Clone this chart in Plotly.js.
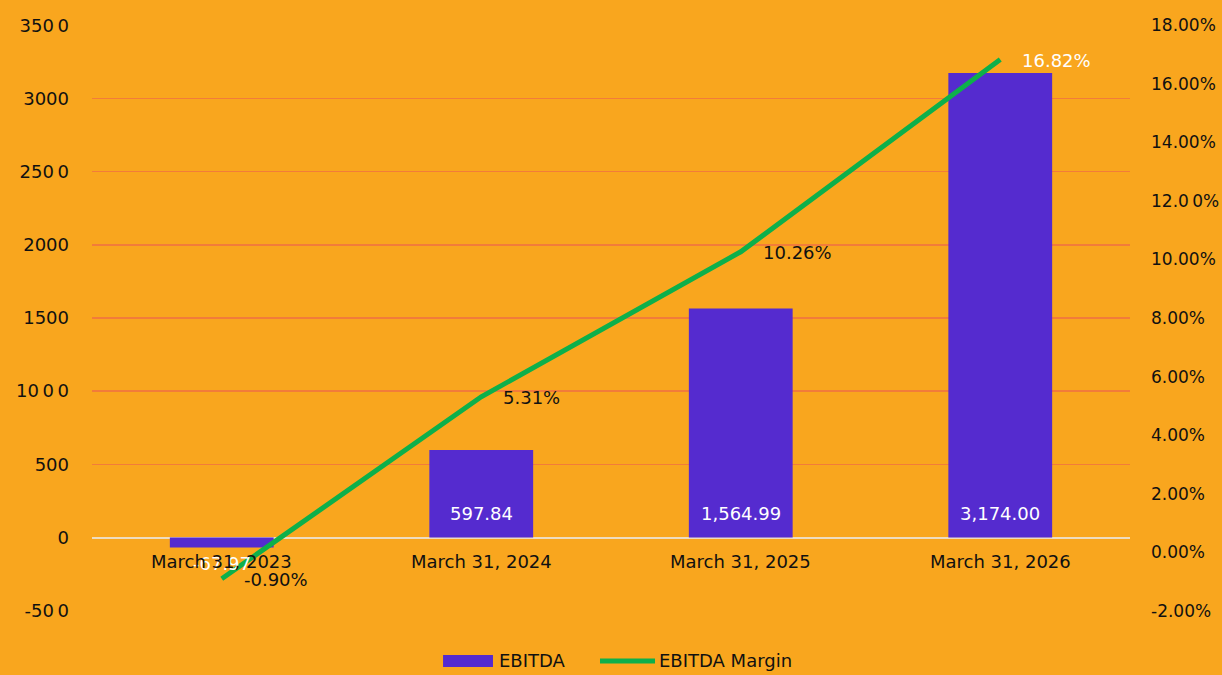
<!DOCTYPE html>
<html>
<head>
<meta charset="utf-8">
<script src="https://cdn.plot.ly/plotly-3.0.1.min.js"></script>
<style>
html,body{margin:0;padding:0;background:#F9A61E;}
#chart{width:1222px;height:675px;}
</style>
</head>
<body>
<div id="chart"></div>
<script>
const categories = ["March 31, 2023", "March 31, 2024", "March 31, 2025", "March 31, 2026"];
const ebitda = [-67.97, 597.84, 1564.99, 3174.00];
const ebitdaLabels = ["-67.97", "597.84", "1,564.99", "3,174.00"];
const margin = [-0.0090, 0.0531, 0.1026, 0.1682];
const marginLabels = ["-0.90%", "5.31%", "10.26%", "16.82%"];
const marginLabelColors = ["#111111", "#111111", "#111111", "#FFFFFF"];
const leftTicks = [-500, 0, 500, 1000, 1500, 2000, 2500, 3000, 3500];
const leftTickText = ["-50\u20090", "0", "500", "10\u20090\u20090", "1500", "2000", "250\u20090", "3000", "350\u20090"];
const rightTicks = [-0.02, 0, 0.02, 0.04, 0.06, 0.08, 0.10, 0.12, 0.14, 0.16, 0.18];
const rightTickText = ["-2.00%", "0.00%", "2.00%", "4.00%", "6.00%", "8.00%", "10.00%", "12.0\u20090%", "14.00%", "16.00%", "18.00%"];
const seriesNames = ["EBITDA", "EBITDA Margin"];

const FONT = "DejaVu Sans, Verdana, sans-serif";
const FS = 18;
const BG = "#F9A61E";
const BAR = "#552BCF";
const GREEN = "#0DB04B";

const traces = [
  {
    type: "bar", name: seriesNames[0], x: categories, y: ebitda,
    marker: {color: BAR}, width: 0.4, yaxis: "y",
    hoverinfo: "skip", showlegend: false
  },
  {
    type: "scatter", mode: "lines", name: seriesNames[1],
    x: categories, y: margin, yaxis: "y2",
    line: {color: GREEN, width: 5},
    cliponaxis: false, hoverinfo: "skip", showlegend: false
  }
];

const annotations = [];
// bar value labels first (drawn beneath category labels)
categories.forEach((c, i) => {
  annotations.push({
    x: c, y: 0, xref: "x", yref: "y", text: ebitdaLabels[i], showarrow: false,
    yanchor: "middle", yshift: ebitda[i] >= 0 ? 24 : -26,
    font: {family: FONT, size: FS, color: "#FFFFFF"}
  });
});
categories.forEach((c, i) => {
  annotations.push({
    x: c, y: 0, xref: "x", yref: "y", text: c, showarrow: false,
    yanchor: "middle", yshift: -24, font: {family: FONT, size: FS, color: "#111"}
  });
  annotations.push({
    x: c, y: margin[i], xref: "x", yref: "y2", text: marginLabels[i], showarrow: false,
    xanchor: "left", yanchor: "middle", xshift: 20, yshift: -1,
    font: {family: FONT, size: FS, color: marginLabelColors[i]}
  });
});

// custom legend (paper coordinates)
annotations.push({x: 0.390, y: -0.0853, xref: "paper", yref: "paper", text: seriesNames[0],
  showarrow: false, xanchor: "left", yanchor: "middle", font: {family: FONT, size: FS, color: "#111"}});
annotations.push({x: 0.5445, y: -0.0853, xref: "paper", yref: "paper", text: seriesNames[1],
  showarrow: false, xanchor: "left", yanchor: "middle", font: {family: FONT, size: FS, color: "#111"}});

const shapes = [
  {type: "rect", xref: "paper", yref: "paper", x0: 0.3382, x1: 0.3863, y0: -0.0956, y1: -0.0751,
   fillcolor: BAR, line: {width: 0}},
  {type: "line", xref: "paper", yref: "paper", x0: 0.4894, x1: 0.5424, y0: -0.0853, y1: -0.0853,
   line: {color: GREEN, width: 5}}
];

const layout = {
  width: 1222, height: 675,
  paper_bgcolor: BG, plot_bgcolor: BG,
  margin: {l: 92, r: 92, t: 25, b: 64, autoexpand: false},
  font: {family: FONT, size: FS, color: "#111"},
  showlegend: false,
  xaxis: {type: "category", showticklabels: false, showgrid: false, zeroline: false,
          showline: false, ticks: "", range: [-0.5, 3.5]},
  yaxis: {range: [-502, 3502], tickvals: leftTicks, ticktext: leftTickText,
          showgrid: true, gridcolor: "#F27C3A", gridwidth: 1.5,
          zeroline: true, zerolinecolor: "#EEDCC0", zerolinewidth: 2,
          ticks: "", ticklabelstandoff: 22, tickfont: {family: FONT, size: FS, color: "#111"}},
  yaxis2: {range: [-0.02, 0.18], overlaying: "y", side: "right",
           tickvals: rightTicks, ticktext: rightTickText,
           showgrid: false, zeroline: false, ticks: "", ticklabelstandoff: 20,
           tickfont: {family: FONT, size: 17, color: "#111"}},
  annotations: annotations,
  shapes: shapes
};

Plotly.newPlot("chart", traces, layout, {displayModeBar: false, staticPlot: true});
</script>
</body>
</html>
